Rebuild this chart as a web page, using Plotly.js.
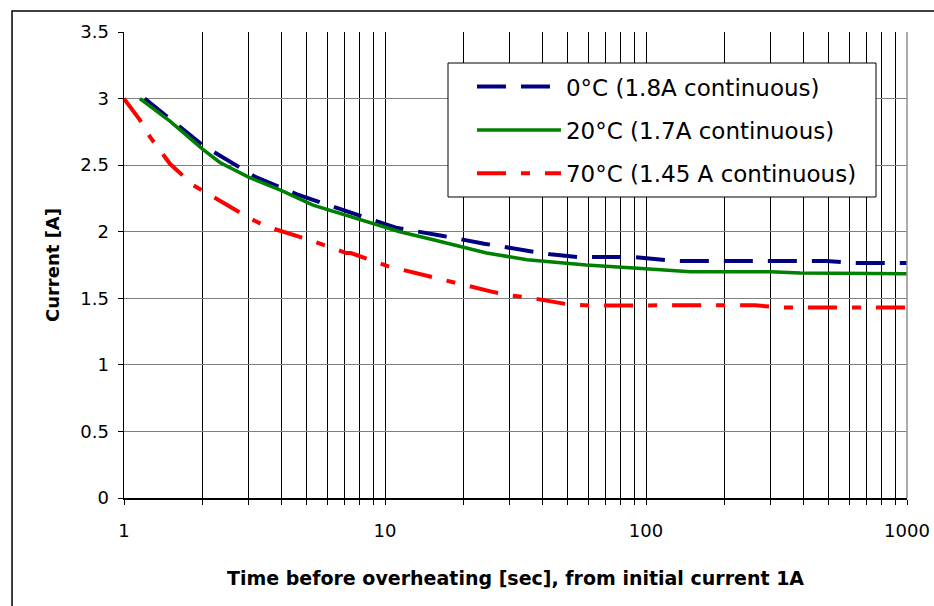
<!DOCTYPE html>
<html>
<head>
<meta charset="utf-8">
<script src="https://cdn.plot.ly/plotly-3.0.1.min.js"></script>
<style>html,body{margin:0;padding:0;background:#fff;}#chart{width:934px;height:606px;}</style>
</head>
<body>
<div id="chart"></div>
<script>
// Series names
const seriesNames = ["0°C (1.8A continuous)", "20°C (1.7A continuous)", "70°C (1.45 A continuous)"];

// 0°C series
const t0 = [1.2, 1.5, 2.0, 3.2, 4.6, 7.5, 11, 16.5, 24, 37, 43, 55, 90, 130, 490, 620, 1000];
const i0 = [3.0, 2.85, 2.65, 2.41, 2.28, 2.14, 2.03, 1.97, 1.91, 1.85, 1.83, 1.81, 1.81, 1.78, 1.78, 1.765, 1.765];

// 20°C series
const t20 = [1.15, 1.5, 2.0, 2.33, 3.0, 4.0, 5.3, 11.4, 15.3, 19.4, 24.5, 35, 59, 103, 148, 300, 390, 1000];
const i20 = [3.0, 2.83, 2.62, 2.52, 2.41, 2.31, 2.2, 2.0, 1.94, 1.89, 1.84, 1.79, 1.75, 1.72, 1.70, 1.70, 1.69, 1.685];

// 70°C series
const t70 = [1.0, 1.15, 1.26, 1.5, 1.84, 2.07, 3.04, 3.5, 5.1, 7.1, 7.4, 10.3, 11.9, 15.3, 25.6, 30.6, 37, 50, 61, 116, 262, 334, 1000];
const i70 = [3.0, 2.84, 2.71, 2.51, 2.35, 2.29, 2.10, 2.04, 1.94, 1.84, 1.84, 1.74, 1.71, 1.655, 1.55, 1.52, 1.50, 1.455, 1.445, 1.447, 1.447, 1.43, 1.43];

// X tick positions (log grid) and labels
const xTickVals = [1,2,3,4,5,6,7,8,9,10,20,30,40,50,60,70,80,90,100,200,300,400,500,600,700,800,900,1000];
const xTickText = ["1","","","","","","","","","10","","","","","","","","","100","","","","","","","","","1000"];

const traces = [
  {x: t0, y: i0, name: seriesNames[0], mode: "lines", legendgroup: "a",
   line: {color: "#000080", width: 4, dash: "29px,15px"}},
  {x: t20, y: i20, name: seriesNames[1], mode: "lines", legendgroup: "b",
   line: {color: "#008000", width: 3.5}},
  {x: t70, y: i70, name: seriesNames[2], mode: "lines", legendgroup: "c",
   line: {color: "#ff0000", width: 4, dash: "29px,15px,9px,15px"}}
];

const layout = {
  width: 934, height: 606,
  paper_bgcolor: "#fff", plot_bgcolor: "#fff",
  margin: {l: 124, r: 27, t: 32, b: 108},
  font: {family: "DejaVu Sans, sans-serif", color: "#000"},
  xaxis: {
    type: "log", range: [0, 3],
    tickmode: "array", tickvals: xTickVals, ticktext: xTickText,
    showgrid: true, gridcolor: "#000", gridwidth: 1,
    showline: true, linecolor: "#000", linewidth: 1.5,
    ticks: "outside", ticklen: 5, tickcolor: "#000", tickwidth: 1,
    tickfont: {size: 18, family: "DejaVu Sans, sans-serif"},
    ticklabelstandoff: 11,
    zeroline: false,
    title: {text: "Time before overheating [sec], from initial current 1A",
            font: {size: 19, family: "DejaVu Sans, sans-serif", weight: "bold"}, standoff: 31}
  },
  yaxis: {
    range: [0, 3.5], dtick: 0.5, tick0: 0,
    showgrid: true, gridcolor: "#808080", gridwidth: 1,
    showline: true, linecolor: "#000", linewidth: 1.5,
    ticks: "outside", ticklen: 5, tickcolor: "#000", tickwidth: 1,
    tickfont: {size: 18, family: "DejaVu Sans, sans-serif"},
    ticklabelstandoff: 5,
    zeroline: false,
    title: {text: "Current [A]",
            font: {size: 18, family: "DejaVu Sans, sans-serif", weight: "bold"}, standoff: 16}
  },
  showlegend: true,
  legend: {
    x: 0.4444, y: 0.929, xanchor: "left", yanchor: "top",
    bgcolor: "rgba(0,0,0,0)", borderwidth: 0,
    font: {size: 23, family: "DejaVu Sans, sans-serif", color: "#000"},
    itemwidth: 84, tracegroupgap: 10.5
  },
  shapes: [
    {type: "rect", xref: "paper", yref: "paper", x0: -0.143, x1: 1.2, y0: -0.4, y1: 1.045,
     line: {color: "#000", width: 1.5}, fillcolor: "rgba(0,0,0,0)", layer: "below"},
    {type: "line", xref: "paper", yref: "paper", x0: 1, x1: 1, y0: 0, y1: 1,
     line: {color: "#909090", width: 1.5}},
    {type: "rect", xref: "paper", yref: "paper",
     x0: (448 - 124) / 783, x1: (876 - 124) / 783,
     y0: (498 - 197) / 466, y1: (498 - 63) / 466,
     line: {color: "#000", width: 1}, fillcolor: "#fff", layer: "above"}
  ]
};

Plotly.newPlot("chart", traces, layout, {displayModeBar: false, staticPlot: true});
</script>
</body>
</html>
